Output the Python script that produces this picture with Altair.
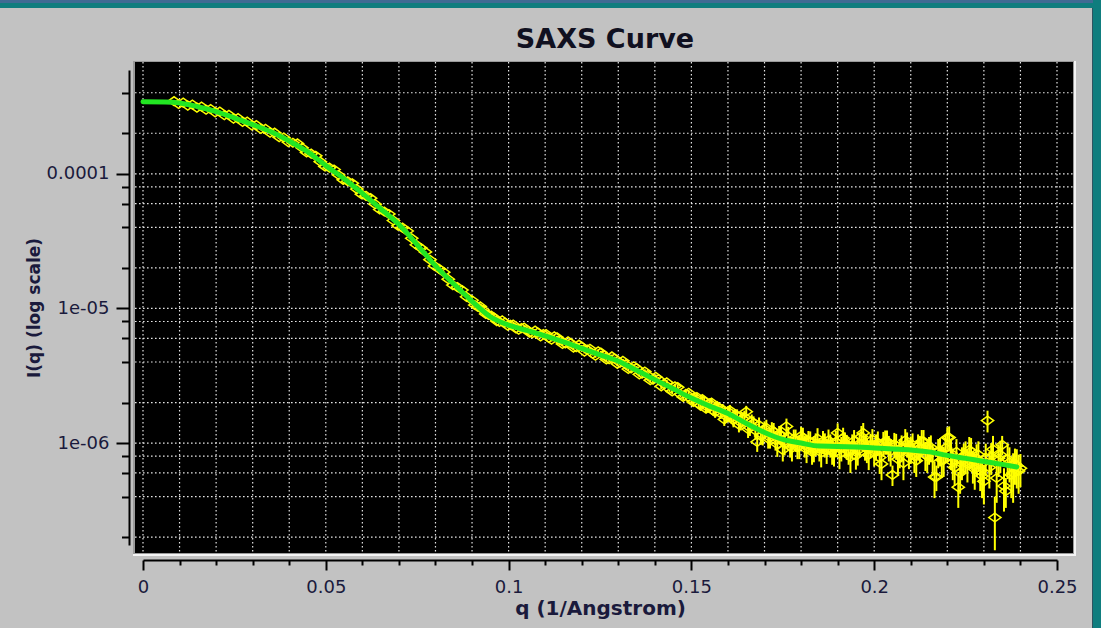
import altair as alt
import pandas as pd

# ---- fitted model curve: q in 1/Angstrom, intensity in units of 1e-6 ----
fit_q = [0.000, 0.006, 0.010, 0.015, 0.020, 0.025, 0.030, 0.035, 0.040, 0.045,
         0.050, 0.055, 0.060, 0.065, 0.070, 0.075, 0.080, 0.085, 0.090, 0.095,
         0.100, 0.105, 0.110, 0.115, 0.120, 0.125, 0.130, 0.135, 0.140, 0.145,
         0.150, 0.155, 0.160, 0.165, 0.170, 0.175, 0.180, 0.185, 0.190, 0.195,
         0.200, 0.205, 0.210, 0.215, 0.220, 0.225, 0.230, 0.235, 0.239]
fit_I = [343, 342, 336, 315, 290, 260, 232, 205, 175, 146,
         115, 92, 71.5, 55, 42.0, 29.7, 20.7, 15.2, 11.3, 8.67,
         7.52, 6.86, 6.25, 5.64, 5.05, 4.52, 4.05, 3.47, 2.96, 2.53,
         2.16, 1.88, 1.66, 1.40, 1.20, 1.065, 1.00, 0.95, 0.945, 0.935,
         0.92, 0.905, 0.89, 0.86, 0.81, 0.77, 0.73, 0.695, 0.665]

# ---- measured intensities (units of 1e-6) with their errors ----
q_low = [0.0085, 0.0110, 0.0135, 0.0160, 0.0185, 0.0210, 0.0235, 0.0260, 0.0285, 0.0310,
         0.0335, 0.0360, 0.0385, 0.0410, 0.0435, 0.0460, 0.0485, 0.0510, 0.0535, 0.0560,
         0.0585, 0.0610, 0.0635, 0.0660, 0.0685, 0.0710, 0.0735, 0.0760, 0.0785, 0.0810,
         0.0835, 0.0860, 0.0885]
I_low = [346, 338, 327, 316, 303, 290, 274, 259, 244, 230,
         216, 202, 186, 170, 156, 141, 123, 111, 98, 88,
         77, 68.5, 59.5, 52.5, 45, 39.8, 33.2, 28.1, 23.0, 19.7,
         16.5, 14.4, 12.2]
err_low = [4.0, 3.9, 3.8, 3.7, 3.5, 3.4, 3.2, 3.0, 2.9, 2.7,
           2.5, 2.4, 2.2, 2.0, 1.9, 1.7, 1.5, 1.3, 1.2, 1.05,
           0.95, 0.85, 0.75, 0.66, 0.58, 0.50, 0.44, 0.38, 0.33, 0.29,
           0.26, 0.24, 0.22]

q_low2 = [0.00975, 0.01225, 0.01475, 0.01725, 0.01975, 0.02225, 0.02475, 0.02725, 0.02975, 0.03225,
          0.03475, 0.03725, 0.03975, 0.04225, 0.04475, 0.04725, 0.04975, 0.05225, 0.05475, 0.05725,
          0.05975, 0.06225, 0.06475, 0.06725, 0.06975, 0.07225, 0.07475, 0.07725, 0.07975, 0.08225,
          0.08475, 0.08725]
I_low2 = [330, 321, 310, 299, 286, 272, 257, 243, 229, 215,
          202, 187, 172, 168, 144, 136, 113.5, 107.6, 90.2, 85,
          70.6, 65.9, 54.3, 50.3, 41.1, 37.6, 29.7, 26.3, 20.7, 18.6,
          14.9, 13.7]
err_low2 = [3.9, 3.8, 3.7, 3.6, 3.4, 3.3, 3.1, 3.0, 2.8, 2.6,
            2.5, 2.3, 2.1, 2.0, 1.8, 1.6, 1.4, 1.3, 1.1, 1.0,
            0.9, 0.8, 0.7, 0.62, 0.54, 0.47, 0.41, 0.35, 0.31, 0.27,
            0.25, 0.23]

q_mid = [0.0900, 0.0915, 0.0930, 0.0945, 0.0960, 0.0975, 0.0990, 0.1005, 0.1020, 0.1035,
         0.1050, 0.1065, 0.1080, 0.1095, 0.1110, 0.1125, 0.1140, 0.1155, 0.1170, 0.1185,
         0.1200, 0.1215, 0.1230, 0.1245, 0.1260, 0.1275, 0.1290, 0.1305, 0.1320, 0.1335,
         0.1350, 0.1365, 0.1380, 0.1395, 0.1410, 0.1425, 0.1440, 0.1455, 0.1470, 0.1485,
         0.1500]
I_mid = [11.5, 10.3, 9.75, 8.95, 8.55, 7.95, 7.85, 7.55, 7.10, 7.15,
         6.95, 6.55, 6.62, 6.45, 6.05, 6.20, 5.80, 5.50, 5.52, 5.15,
         5.20, 4.95, 4.62, 4.80, 4.50, 4.20, 4.25, 3.95, 3.85, 3.58,
         3.60, 3.28, 3.20, 2.96, 2.98, 2.75, 2.52, 2.64, 2.30, 2.32,
         2.12]
err_mid = [0.25, 0.25, 0.22, 0.22, 0.20, 0.20, 0.20, 0.19, 0.19, 0.18,
           0.18, 0.18, 0.17, 0.17, 0.17, 0.17, 0.16, 0.16, 0.16, 0.16,
           0.15, 0.15, 0.15, 0.15, 0.14, 0.14, 0.14, 0.14, 0.13, 0.13,
           0.13, 0.13, 0.12, 0.12, 0.12, 0.12, 0.12, 0.12, 0.12, 0.12,
           0.12]

q_mid2 = [0.09075, 0.09225, 0.09375, 0.09525, 0.09675, 0.09825, 0.09975, 0.10125, 0.10275, 0.10425,
          0.10575, 0.10725, 0.10875, 0.11025, 0.11175, 0.11325, 0.11475, 0.11625, 0.11775, 0.11925,
          0.12075, 0.12225, 0.12375, 0.12525, 0.12675, 0.12825, 0.12975, 0.13125, 0.13275, 0.13425,
          0.13575, 0.13725, 0.13875, 0.14025, 0.14175, 0.14325, 0.14475, 0.14625, 0.14775, 0.14925]
I_mid2 = [10.6, 10.35, 9.10, 8.85, 8.05, 8.15, 7.45, 7.60, 6.95, 7.20,
          6.60, 6.85, 6.20, 6.45, 5.85, 6.10, 5.45, 5.70, 5.12, 5.38,
          4.78, 5.02, 4.45, 4.70, 4.18, 4.40, 3.88, 4.08, 3.55, 3.72,
          3.24, 3.40, 2.93, 3.10, 2.64, 2.82, 2.42, 2.60, 2.20, 2.36]
err_mid2 = [0.24, 0.23, 0.22, 0.21, 0.20, 0.20, 0.19, 0.19, 0.18, 0.18,
            0.18, 0.17, 0.17, 0.17, 0.17, 0.16, 0.16, 0.16, 0.16, 0.15,
            0.15, 0.15, 0.15, 0.14, 0.14, 0.14, 0.14, 0.14, 0.13, 0.13,
            0.13, 0.13, 0.13, 0.13, 0.12, 0.12, 0.12, 0.12, 0.12, 0.12]

q_high = [0.151, 0.152, 0.153, 0.154, 0.155, 0.156, 0.157, 0.158, 0.159, 0.160,
          0.161, 0.162, 0.163, 0.164, 0.165, 0.166, 0.167, 0.168, 0.169, 0.170,
          0.171, 0.172, 0.173, 0.174, 0.175, 0.176, 0.177, 0.178, 0.179, 0.180,
          0.181, 0.182, 0.183, 0.184, 0.185, 0.186, 0.187, 0.188, 0.189, 0.190,
          0.191, 0.192, 0.193, 0.194, 0.195, 0.196, 0.197, 0.198, 0.199, 0.200,
          0.201, 0.202, 0.203, 0.204, 0.205, 0.206, 0.207, 0.208, 0.209, 0.210,
          0.211, 0.212, 0.213, 0.214, 0.215, 0.216, 0.217, 0.218, 0.219, 0.220,
          0.221, 0.222, 0.223, 0.224, 0.225, 0.226, 0.227, 0.228, 0.229, 0.230,
          0.231, 0.232, 0.233, 0.234, 0.235, 0.236, 0.237, 0.238, 0.239, 0.240]
I_high = [2.18, 1.95, 2.12, 1.80, 1.97, 1.74, 1.88, 1.66, 1.50, 1.72,
          1.55, 1.62, 1.37, 1.52, 1.71, 1.30, 1.41, 1.02, 1.13, 1.28,
          1.08, 1.25, 1.05, 1.16, 0.89, 1.33, 0.95, 1.08, 0.93, 1.13,
          0.96, 1.04, 0.86, 0.99, 0.91, 1.03, 0.88, 0.97, 0.84, 1.19,
          0.92, 1.00, 0.87, 0.96, 0.805, 0.99, 1.19, 0.90, 0.97, 0.86,
          1.01, 0.70, 1.03, 0.93, 0.58, 0.96, 0.85, 0.71, 0.99, 0.91,
          0.80, 0.95, 1.03, 0.82, 0.90, 0.78, 0.56, 0.88, 0.75, 1.10,
          0.84, 0.66, 0.47, 0.73, 0.82, 0.89, 0.68, 0.77, 0.62, 0.52,
          1.47, 0.79, 0.28, 0.77, 0.97, 0.44, 0.72, 0.60, 0.68, 0.65]
err_high = [0.12, 0.12, 0.14, 0.13, 0.14, 0.14, 0.15, 0.15, 0.16, 0.15,
            0.16, 0.16, 0.17, 0.17, 0.18, 0.17, 0.17, 0.16, 0.16, 0.17,
            0.17, 0.18, 0.17, 0.18, 0.16, 0.19, 0.17, 0.18, 0.17, 0.19,
            0.18, 0.19, 0.17, 0.19, 0.18, 0.20, 0.18, 0.19, 0.17, 0.21,
            0.19, 0.20, 0.18, 0.20, 0.17, 0.20, 0.22, 0.19, 0.20, 0.19,
            0.21, 0.17, 0.21, 0.20, 0.10, 0.21, 0.20, 0.18, 0.21, 0.21,
            0.20, 0.21, 0.22, 0.20, 0.21, 0.19, 0.12, 0.21, 0.19, 0.21,
            0.21, 0.18, 0.14, 0.20, 0.21, 0.22, 0.18, 0.21, 0.18, 0.17,
            0.27, 0.21, 0.12, 0.21, 0.16, 0.11, 0.21, 0.24, 0.22, 0.18]

q_high2 = [0.1505, 0.1515, 0.1525, 0.1535, 0.1545, 0.1555, 0.1565, 0.1575, 0.1585, 0.1595,
           0.1605, 0.1615, 0.1625, 0.1635, 0.1645, 0.1655, 0.1665, 0.1675, 0.1685, 0.1695,
           0.1705, 0.1715, 0.1725, 0.1735, 0.1745, 0.1755, 0.1765, 0.1775, 0.1785, 0.1795,
           0.1805, 0.1815, 0.1825, 0.1835, 0.1845, 0.1855, 0.1865, 0.1875, 0.1885, 0.1895,
           0.1905, 0.1915, 0.1925, 0.1935, 0.1945, 0.1955, 0.1965, 0.1975, 0.1985, 0.1995,
           0.2005, 0.2015, 0.2025, 0.2035, 0.2045, 0.2055, 0.2065, 0.2075, 0.2085, 0.2095,
           0.2105, 0.2115, 0.2125, 0.2135, 0.2145, 0.2155, 0.2165, 0.2175, 0.2185, 0.2195,
           0.2205, 0.2215, 0.2225, 0.2235, 0.2245, 0.2255, 0.2265, 0.2275, 0.2285, 0.2295,
           0.2305, 0.2315, 0.2325, 0.2335, 0.2345, 0.2355, 0.2365, 0.2375, 0.2385, 0.2395]
I_high2 = [2.02, 2.20, 1.90, 2.05, 1.84, 2.00, 1.70, 1.83, 1.78, 1.58,
           1.75, 1.48, 1.60, 1.42, 1.56, 1.27, 1.45, 1.24, 1.36, 1.15,
           1.30, 1.10, 1.22, 0.98, 1.15, 1.00, 1.12, 0.92, 1.06, 0.95,
           1.10, 0.90, 1.02, 0.92, 1.08, 0.85, 0.98, 1.05, 0.89, 1.02,
           0.83, 1.09, 0.95, 0.79, 1.04, 0.88, 1.12, 0.94, 0.82, 1.06,
           0.95, 0.78, 1.00, 1.03, 0.87, 0.98, 0.76, 0.93, 1.05, 0.84,
           0.97, 0.74, 0.92, 1.03, 0.80, 0.93, 0.56, 0.86, 0.75, 0.92,
           1.10, 0.72, 0.86, 0.60, 0.79, 0.70, 0.87, 0.64, 0.82, 0.57,
           0.78, 0.66, 0.90, 0.55, 0.82, 0.48, 0.76, 0.58, 0.70, 0.62]
err_high2 = [0.14, 0.14, 0.15, 0.15, 0.15, 0.16, 0.16, 0.16, 0.17, 0.17,
             0.17, 0.17, 0.18, 0.18, 0.18, 0.18, 0.18, 0.18, 0.19, 0.19,
             0.19, 0.19, 0.19, 0.19, 0.19, 0.19, 0.20, 0.19, 0.20, 0.19,
             0.20, 0.19, 0.20, 0.20, 0.21, 0.19, 0.20, 0.21, 0.20, 0.21,
             0.19, 0.21, 0.20, 0.19, 0.21, 0.20, 0.22, 0.20, 0.19, 0.21,
             0.21, 0.19, 0.21, 0.21, 0.20, 0.21, 0.19, 0.21, 0.22, 0.20,
             0.21, 0.18, 0.21, 0.22, 0.20, 0.21, 0.17, 0.21, 0.20, 0.21,
             0.23, 0.19, 0.21, 0.18, 0.20, 0.19, 0.22, 0.19, 0.21, 0.18,
             0.21, 0.20, 0.23, 0.19, 0.22, 0.17, 0.22, 0.19, 0.21, 0.20]

# ---- axis ticks and grid positions ----
x_ticks = [0.00, 0.01, 0.02, 0.03, 0.04, 0.05, 0.06, 0.07, 0.08, 0.09,
           0.10, 0.11, 0.12, 0.13, 0.14, 0.15, 0.16, 0.17, 0.18, 0.19,
           0.20, 0.21, 0.22, 0.23, 0.24, 0.25]
y_ticks = [2e-7, 4e-7, 6e-7, 8e-7, 1e-6, 2e-6, 4e-6, 6e-6, 8e-6, 1e-5,
           2e-5, 4e-5, 6e-5, 8e-5, 1e-4, 2e-4, 4e-4]

UNIT = 1e-6
q_obs = q_low + q_low2 + q_mid + q_mid2 + q_high + q_high2
I_obs = I_low + I_low2 + I_mid + I_mid2 + I_high + I_high2
e_obs = err_low + err_low2 + err_mid + err_mid2 + err_high + err_high2

obs = pd.DataFrame({
    "q": q_obs,
    "I": [v * UNIT for v in I_obs],
    "lo": [(v - e) * UNIT for v, e in zip(I_obs, e_obs)],
    "hi": [(v + e) * UNIT for v, e in zip(I_obs, e_obs)],
})
fit = pd.DataFrame({"q": fit_q, "I": [v * UNIT for v in fit_I]})
xgrid = pd.DataFrame({"q": x_ticks})
ygrid = pd.DataFrame({"I": y_ticks})
one = pd.DataFrame({"k": [0]})

TEXT = "#1a1a3c"
FONT = "DejaVu Sans"
X_MAJOR = "abs(datum.value * 20 - round(datum.value * 20)) < 1e-6"
LOG10 = "(log(datum.value) / LN10)"
Y_MAJOR = f"abs({LOG10} - round({LOG10})) < 1e-6"

xscale = alt.Scale(domain=[0, 0.25], nice=False, zero=False)
yscale = alt.Scale(type="log", domain=[1.75e-7, 5.9e-4], nice=False)

xaxis = alt.Axis(
    values=x_ticks, grid=False, offset=15,
    domainColor="#000000", domainWidth=2, tickColor="#000000", tickWidth=2,
    tickSize={"condition": {"test": X_MAJOR, "value": 10}, "value": 5},
    labelExpr=f"{X_MAJOR} ? format(datum.value, '~g') : ''",
    labelFont=FONT, labelFontSize=18, labelColor=TEXT, labelPadding=8,
    labelFlush=False, labelOverlap=False,
    title="q (1/Angstrom)", titleFont=FONT, titleFontSize=20,
    titleFontWeight="bold", titleColor=TEXT, titlePadding=2,
)
yaxis = alt.Axis(
    values=y_ticks, grid=False, offset=14,
    domainColor="#000000", domainWidth=2, tickColor="#000000", tickWidth=2,
    tickSize={"condition": {"test": Y_MAJOR, "value": 13}, "value": 7.5},
    labelExpr=(f"abs({LOG10} + 4) < 1e-6 ? '0.0001' : "
               f"abs({LOG10} + 5) < 1e-6 ? '1e-05' : "
               f"abs({LOG10} + 6) < 1e-6 ? '1e-06' : ''"),
    labelFont=FONT, labelFontSize=18, labelColor=TEXT, labelPadding=7,
    labelFlush=False, labelOverlap=False,
    title="I(q) (log scale)", titleFont=FONT, titleFontSize=17,
    titleFontWeight="bold", titleColor=TEXT, titlePadding=3,
)

X = lambda f: alt.X(f"{f}:Q", scale=xscale, axis=xaxis)
Y = lambda f: alt.Y(f"{f}:Q", scale=yscale, axis=yaxis)

def panel_rect(x0, x1, y0, y1, color):
    return alt.Chart(one).mark_rect(color=color).encode(
        x=alt.value(x0), x2=alt.value(x1), y=alt.value(y0), y2=alt.value(y1))

# sunken frame and black plotting panel
frame = panel_rect(-10, 933, -9, 486, "#f4f4f4")
edge = panel_rect(-10, 931, -9, 484, "#9a9a9a")
panel = panel_rect(-8, 930, -8, 483, "#000000")

# dotted grid across the whole panel
grid_v = alt.Chart(xgrid).mark_rule(color="#e4e4e4", strokeWidth=1.2, strokeDash=[1.6, 2.4]).encode(
    x=X("q"), y=alt.value(-8), y2=alt.value(483))
grid_h = alt.Chart(ygrid).mark_rule(color="#e4e4e4", strokeWidth=1.2, strokeDash=[1.6, 2.4]).encode(
    y=Y("I"), x=alt.value(-8), x2=alt.value(930))

errbars = alt.Chart(obs).mark_rule(color="#ffff00", strokeWidth=2).encode(
    x=X("q"), y=Y("lo"), y2="hi")
points = alt.Chart(obs).mark_point(
    shape="M-1,0L0,-0.72L1,0L0,0.72Z", filled=False, color="#ffff00",
    strokeWidth=1.5, size=150, opacity=1).encode(x=X("q"), y=Y("I"))
model = alt.Chart(fit).mark_line(color="#22e622", strokeWidth=5, interpolate="monotone",
                                 strokeCap="round").encode(x=X("q"), y=Y("I"))

title = alt.Chart(one).mark_text(
    text="SAXS Curve", font=FONT, fontSize=27, fontWeight="bold", color="#101020",
    align="center", baseline="middle").encode(x=alt.value(462), y=alt.value(-30))

# window chrome: teal strips along the top and right edges
top_band = panel_rect(-143, 958, -70, -62, "#0f7d7e")
top_line = panel_rect(-143, 958, -70, -67, "#3f6b93")
right_band = panel_rect(950, 958, -70, 558, "#0f7d7e")
right_line = panel_rect(949, 950, -62, 558, "#2f5360")

chart = alt.layer(
    frame, edge, panel, grid_v, grid_h, errbars, points, model, title,
    top_band, top_line, right_band, right_line,
).properties(
    width=914, height=475,
    padding={"left": 143, "top": 70, "right": 44, "bottom": 83},
    autosize=alt.AutoSizeParams(type="none"),
    background="#c2c2c2",
).configure_view(stroke=None)

chart.save("out.html", embed_options={"renderer": "svg", "actions": False})
